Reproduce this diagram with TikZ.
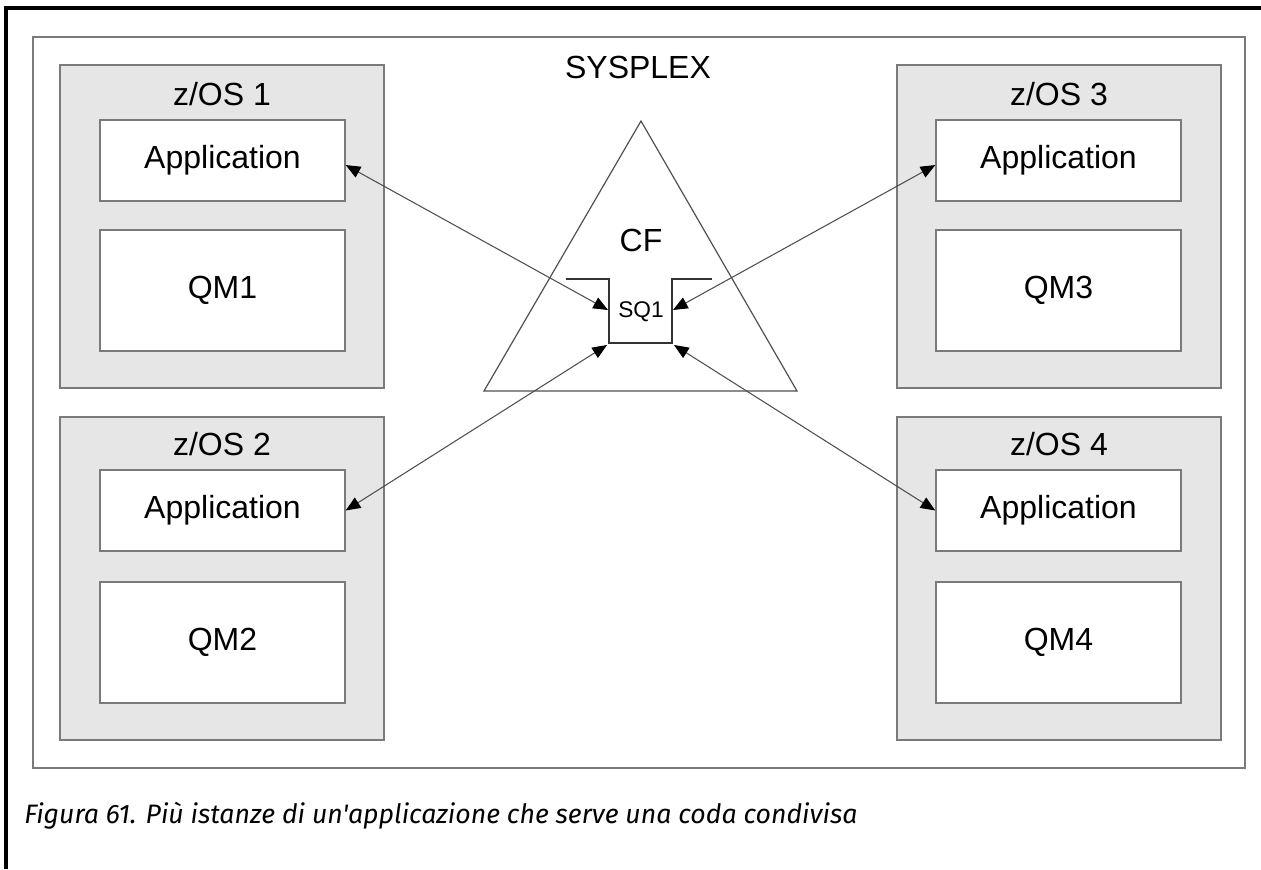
\documentclass[tikz,border=0pt]{standalone}
\usepackage{fontspec}
\setmainfont{Liberation Sans}
\newfontfamily\capfont{Fira Sans}
\usetikzlibrary{arrows.meta}
\definecolor{zfill}{HTML}{E6E6E6}
\definecolor{bordergray}{HTML}{7A7A7A}
\definecolor{linegray}{HTML}{505050}
\tikzset{
  zbox/.style={draw=bordergray, line width=1.4pt, fill=zfill, minimum width=243pt, minimum height=242pt, inner sep=0pt},
  appbox/.style={draw=bordergray, line width=1.3pt, fill=white, minimum width=183.5pt, minimum height=61pt, inner sep=0pt, font=\fontsize{24}{28}\selectfont},
  qmbox/.style={draw=bordergray, line width=1.3pt, fill=white, minimum width=183.5pt, minimum height=91pt, inner sep=0pt, font=\fontsize{24}{28}\selectfont},
  lbl/.style={font=\fontsize{24}{28}\selectfont, inner sep=0pt},
  conn/.style={draw=linegray, line width=0.8pt, {Triangle[length=11pt,width=9pt,color=black]}-{Triangle[length=11pt,width=9pt,color=black]}},
  sqline/.style={draw=black!80, line width=1pt},
}
\begin{document}
\begin{tikzpicture}[x=0.75pt,y=-0.75pt]
\useasboundingbox (0,0) rectangle (1261,869);
% outer frame (top and left)
\draw[line width=2.3pt, black] (6,869) -- (6,8) -- (1261,8);
% sysplex
\node[draw=bordergray, line width=1.3pt, minimum width=909pt, minimum height=548.25pt, inner sep=0pt] (sysplex) at (639,402.5) {};
\node[lbl] (sysplexlbl) at (638,67) {SYSPLEX};
% z/OS boxes
\node[zbox] (z1) at (222,226.5) {};
\node[zbox] (z2) at (222,578.5) {};
\node[zbox] (z3) at (1059,226.5) {};
\node[zbox] (z4) at (1059,578.5) {};
\node[lbl] (z1lbl) at (222,94) {z/OS 1};
\node[lbl] (z2lbl) at (222,444) {z/OS 2};
\node[lbl] (z3lbl) at (1059,94) {z/OS 3};
\node[lbl] (z4lbl) at (1059,444) {z/OS 4};
% applications and queue managers
\node[appbox] (app1) at (222.5,160.5) {Application};
\node[qmbox] (qm1) at (222.5,290.5) {QM1};
\node[appbox] (app2) at (222.5,510.5) {Application};
\node[qmbox] (qm2) at (222.5,642.5) {QM2};
\node[appbox] (app3) at (1058.5,160.5) {Application};
\node[qmbox] (qm3) at (1058.5,290.5) {QM3};
\node[appbox] (app4) at (1058.5,510.5) {Application};
\node[qmbox] (qm4) at (1058.5,642.5) {QM4};
% coupling facility triangle
\coordinate (tA) at (641,121);
\coordinate (tR) at (797,391);
\coordinate (tL) at (484,391);
\draw[draw=linegray, line width=0.9pt] (tA) -- (tR) -- (tL) -- cycle;
\node[lbl] (cf) at (641,240) {CF};
% shared queue SQ1
\coordinate (sqTLbar) at (566,279);
\coordinate (sqTL) at (609,279);
\coordinate (sqBL) at (609,343);
\coordinate (sqBR) at (672,343);
\coordinate (sqTR) at (672,279);
\coordinate (sqTRbar) at (712,279);
\draw[sqline] (sqTLbar) -- (sqTL) -- (sqBL) -- (sqBR) -- (sqTR) -- (sqTRbar);
\node[inner sep=0pt, font=\fontsize{17}{20}\selectfont] (sq1) at (641,312) {SQ1};
\coordinate (sqL) at (608,310);
\coordinate (sqR) at (673,310);
\coordinate (sqLB) at (607,345);
\coordinate (sqRB) at (674,345);
% connectors
\draw[conn] ([yshift=-3.4pt]app1.east) -- (sqL);
\draw[conn] ([yshift=-3.4pt]app3.west) -- (sqR);
\draw[conn] (app2.east) -- (sqLB);
\draw[conn] (app4.west) -- (sqRB);
% caption
\node[anchor=base west, inner sep=0pt, font=\capfont\itshape\fontsize{20}{24}\selectfont] (caption) at (24,823) {Figura 61. Più istanze di un'applicazione che serve una coda condivisa};
\end{tikzpicture}
\end{document}
